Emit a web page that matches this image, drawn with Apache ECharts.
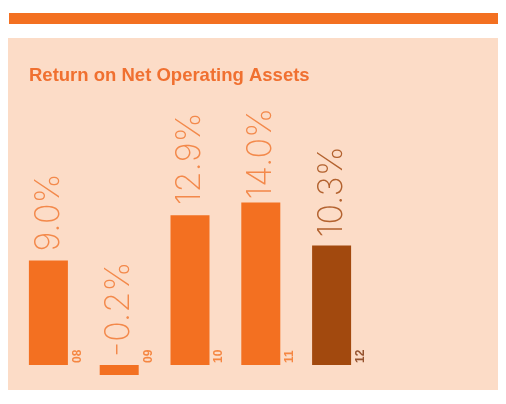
<!DOCTYPE html>
<html>
<head>
<meta charset="utf-8">
<script src="https://cdn.jsdelivr.net/npm/echarts@6/dist/echarts.min.js"></script>
<style>
  html, body { margin: 0; padding: 0; background: #ffffff; }
  #chart { width: 506px; height: 404px; }
</style>
</head>
<body>
<div id="chart"></div>
<script>
// data
const years = ['08', '09', '10', '11', '12'];
const ronoa = [9.0, -0.2, 12.9, 14.0, 10.3];

// styling
const ORANGE = '#F37021';
const BROWN = '#A2490E';
const LABEL_ORANGE = '#F3894B';
const LABEL_BROWN = '#B3622F';
const latest = years.length - 1; // last year is drawn in brown
const labelGap = [9, 8, 10, 3, 8];  // the 2011 label hugs its bar in the original

const chart = echarts.init(document.getElementById('chart'));

chart.setOption({
  animation: false,
  backgroundColor: '#ffffff',
  graphic: [
    // orange strip on top
    { type: 'rect', shape: { x: 9, y: 13, width: 489, height: 11 }, style: { fill: ORANGE }, z: -10 },
    // peach panel
    { type: 'rect', shape: { x: 8, y: 38, width: 490, height: 352 }, style: { fill: '#FCDCC7' }, z: -10 }
  ],
  title: {
    text: 'Return on Net Operating Assets',
    left: 29,
    top: 66,
    padding: 0,
    textStyle: { color: '#F07030', fontFamily: 'Liberation Sans', fontWeight: 'bold', fontSize: 18.5 }
  },
  grid: { left: 13, right: 139, top: 133, bottom: 15.8 },
  xAxis: {
    type: 'category',
    data: years,
    axisLine: { show: false },
    axisTick: { show: false },
    axisLabel: { show: false }
  },
  yAxis: { type: 'value', min: -2, max: 20, show: false },
  series: [{
    type: 'bar',
    barWidth: 39,
    barMinHeight: 10,
    data: ronoa.map((v, i) => ({
      value: v,
      itemStyle: { color: i === latest ? BROWN : ORANGE },
      label: { color: i === latest ? LABEL_BROWN : LABEL_ORANGE, distance: labelGap[i] }
    })),
    label: {
      show: true,
      position: 'top',
      rotate: 90,
      align: 'left',
      verticalAlign: 'middle',
      fontFamily: 'Inter',
      fontWeight: 200,
      fontSize: 34,
      formatter: p => p.value.toFixed(1) + '%'
    }
  }, {
    // year labels sitting on the zero line, right of each bar
    type: 'scatter',
    symbolSize: 0,
    silent: true,
    z: 10,
    data: years.map((y, i) => ({
      value: [y, 0],
      label: { color: i === latest ? '#7A3008' : ORANGE }
    })),
    label: {
      show: true,
      position: 'inside',
      offset: [2, 29],  // label frame is rotated: [up, right]
      rotate: 90,
      align: 'left',
      verticalAlign: 'middle',
      fontFamily: 'Liberation Sans',
      fontWeight: 'bold',
      fontSize: 12,
      formatter: p => p.value[0]
    }
  }]
});
</script>
</body>
</html>
